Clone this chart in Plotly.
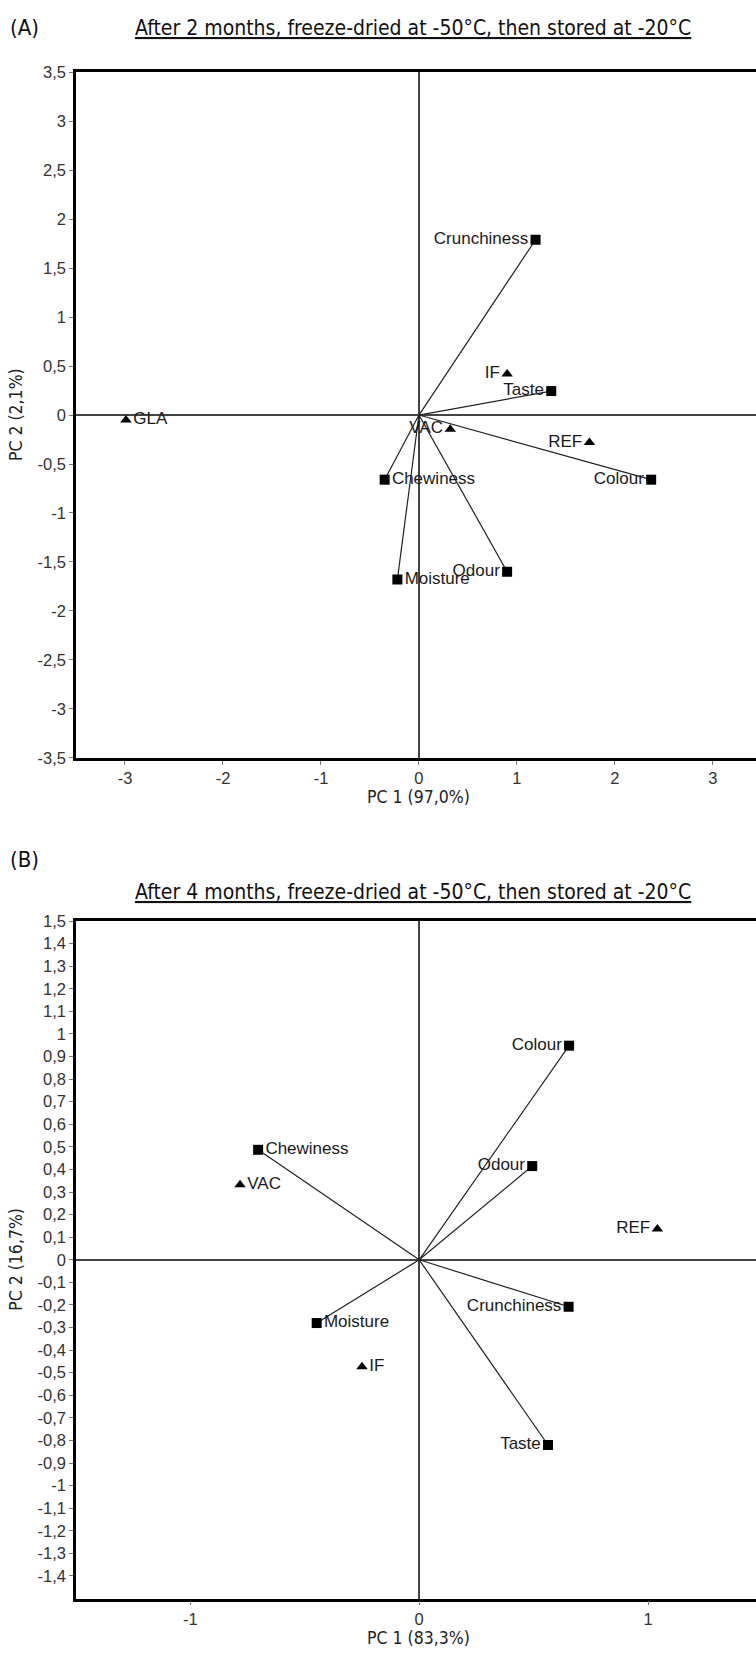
import plotly.graph_objects as go

# ---------------- Data ----------------
# Panel A: after 2 months
a_var_names = ["Crunchiness", "Taste", "Colour", "Chewiness", "Moisture", "Odour"]
a_var_pc1 = [1.19, 1.35, 2.37, -0.35, -0.22, 0.90]
a_var_pc2 = [1.79, 0.245, -0.66, -0.66, -1.68, -1.60]
a_var_textpos = ["middle left", "middle left", "middle left", "middle right", "middle right", "middle left"]
a_obs_names = ["IF", "VAC", "REF", "GLA"]
a_obs_pc1 = [0.90, 0.32, 1.74, -2.99]
a_obs_pc2 = [0.42, -0.145, -0.28, -0.05]
a_obs_textpos = ["middle left", "middle left", "middle left", "middle right"]
a_xtick_vals = [-3, -2, -1, 0, 1, 2, 3]
a_xtick_text = ["-3", "-2", "-1", "0", "1", "2", "3"]
a_ytick_vals = [3.5, 3, 2.5, 2, 1.5, 1, 0.5, 0, -0.5, -1, -1.5, -2, -2.5, -3, -3.5]
a_ytick_text = ["3,5", "3", "2,5", "2", "1,5", "1", "0,5", "0", "-0,5", "-1", "-1,5", "-2", "-2,5", "-3", "-3,5"]

# Panel B: after 4 months
b_var_names = ["Colour", "Odour", "Chewiness", "Moisture", "Crunchiness", "Taste"]
b_var_pc1 = [0.655, 0.494, -0.704, -0.448, 0.653, 0.563]
b_var_pc2 = [0.948, 0.415, 0.487, -0.28, -0.208, -0.82]
b_var_textpos = ["middle left", "middle left", "middle right", "middle right", "middle left", "middle left"]
b_obs_names = ["VAC", "REF", "IF"]
b_obs_pc1 = [-0.783, 1.041, -0.25]
b_obs_pc2 = [0.332, 0.136, -0.474]
b_obs_textpos = ["middle right", "middle left", "middle right"]
b_xtick_vals = [-1, 0, 1]
b_xtick_text = ["-1", "0", "1"]
b_ytick_vals = [1.5, 1.4, 1.3, 1.2, 1.1, 1, 0.9, 0.8, 0.7, 0.6, 0.5, 0.4, 0.3, 0.2, 0.1, 0,
                -0.1, -0.2, -0.3, -0.4, -0.5, -0.6, -0.7, -0.8, -0.9, -1, -1.1, -1.2, -1.3, -1.4]
b_ytick_text = ["1,5", "1,4", "1,3", "1,2", "1,1", "1", "0,9", "0,8", "0,7", "0,6", "0,5", "0,4", "0,3", "0,2", "0,1", "0",
                "-0,1", "-0,2", "-0,3", "-0,4", "-0,5", "-0,6", "-0,7", "-0,8", "-0,9", "-1", "-1,1", "-1,2", "-1,3", "-1,4"]

titles = ["After 2 months, freeze-dried at -50°C, then stored at -20°C",
          "After 4 months, freeze-dried at -50°C, then stored at -20°C"]
panel_tags = ["(A)", "(B)"]
x_titles = ["PC 1 (97,0%)", "PC 1 (83,3%)"]
y_titles = ["PC 2 (2,1%)", "PC 2 (16,7%)"]

# ---------------- Layout constants (pixels) ----------------
W, H = 756, 1660
def py(p):
    return 1 - p / H

LABEL_FONT = dict(family="Liberation Sans, Arial, sans-serif", size=17, color="#1a1a1a")
TICK_FONT = dict(family="Liberation Sans, Arial, sans-serif", size=16.5, color="#333")
NARROW = "Liberation Sans Narrow, Arial Narrow, DejaVu Sans Condensed, sans-serif"

fig = go.Figure()

def add_panel(idx, var_names, vx, vy, vpos, obs_names, ox, oy, opos):
    xa = "x" if idx == 0 else "x2"
    ya = "y" if idx == 0 else "y2"
    # loading vectors from origin
    lx, ly = [], []
    for x, y in zip(vx, vy):
        lx += [0, x, None]
        ly += [0, y, None]
    fig.add_trace(go.Scatter(x=lx, y=ly, mode="lines", line=dict(color="#222", width=1.2),
                             xaxis=xa, yaxis=ya, hoverinfo="skip", showlegend=False))
    fig.add_trace(go.Scatter(x=vx, y=vy, mode="markers+text", text=var_names, textposition=vpos,
                             marker=dict(symbol="square", size=10, color="black"),
                             textfont=LABEL_FONT, xaxis=xa, yaxis=ya, showlegend=False))
    fig.add_trace(go.Scatter(x=ox, y=oy, mode="markers+text", text=obs_names, textposition=opos,
                             marker=dict(symbol="triangle-up", size=10, color="black"),
                             textfont=LABEL_FONT, xaxis=xa, yaxis=ya, showlegend=False))

add_panel(0, a_var_names, a_var_pc1, a_var_pc2, a_var_textpos, a_obs_names, a_obs_pc1, a_obs_pc2, a_obs_textpos)
add_panel(1, b_var_names, b_var_pc1, b_var_pc2, b_var_textpos, b_obs_names, b_obs_pc1, b_obs_pc2, b_obs_textpos)

# panel pixel geometry
A_TOP, A_BOT = 64, 757
B_TOP, B_BOT = 922, 1607
LEFT = 76

common_x = dict(showgrid=False, showline=True, linecolor="black", linewidth=2.5, mirror=True,
                ticks="outside", ticklen=4, tickcolor="#777", tickfont=TICK_FONT,
                zeroline=True, zerolinecolor="#444", zerolinewidth=1.5, tickmode="array")
common_y = dict(showgrid=False, showline=True, linecolor="black", linewidth=2.5, mirror=False,
                ticks="outside", ticklen=4, tickcolor="#777", tickfont=TICK_FONT,
                zeroline=True, zerolinecolor="#444", zerolinewidth=1.5, tickmode="array")

fig.update_layout(
    width=W, height=H, margin=dict(l=0, r=0, t=0, b=0),
    paper_bgcolor="white", plot_bgcolor="white", showlegend=False,
    xaxis=dict(common_x, domain=[LEFT / W, 1], range=[-3.5, 3.44], anchor="y",
               tickvals=a_xtick_vals, ticktext=a_xtick_text),
    yaxis=dict(common_y, domain=[py(A_BOT), py(A_TOP)], range=[-3.5, 3.5], anchor="x",
               tickvals=a_ytick_vals, ticktext=a_ytick_text),
    xaxis2=dict(common_x, domain=[LEFT / W, 1], range=[-1.5, 1.472], anchor="y2",
                tickvals=b_xtick_vals, ticktext=b_xtick_text),
    yaxis2=dict(common_y, domain=[py(B_BOT), py(B_TOP)], range=[-1.5, 1.5], anchor="x2",
                tickvals=b_ytick_vals, ticktext=b_ytick_text),
)

ann = []
tag_y = [19, 860]
title_y = [19, 893]
for i in range(2):
    ann.append(dict(text=panel_tags[i], xref="paper", yref="paper", x=8 / W, y=py(tag_y[i]),
                    xanchor="left", yanchor="middle", showarrow=False,
                    font=dict(family=NARROW, size=22, color="#111")))
    ann.append(dict(text="<u>" + titles[i] + "</u>", xref="paper", yref="paper", x=413 / W, y=py(title_y[i]),
                    xanchor="center", yanchor="middle", showarrow=False,
                    font=dict(family=NARROW, size=21, color="#111")))
bots = [A_BOT, B_BOT]
tops = [A_TOP, B_TOP]
for i in range(2):
    ann.append(dict(text=x_titles[i], xref="paper", yref="paper", x=419 / W, y=py(bots[i] + 40),
                    xanchor="center", yanchor="middle", showarrow=False,
                    font=dict(family=NARROW, size=17.5, color="#222")))
    ann.append(dict(text=y_titles[i], xref="paper", yref="paper", x=16 / W, y=py((tops[i] + bots[i]) / 2),
                    xanchor="center", yanchor="middle", showarrow=False, textangle=-90,
                    font=dict(family=NARROW, size=17.5, color="#222")))
fig.update_layout(annotations=ann)

fig.write_html("out.html")
